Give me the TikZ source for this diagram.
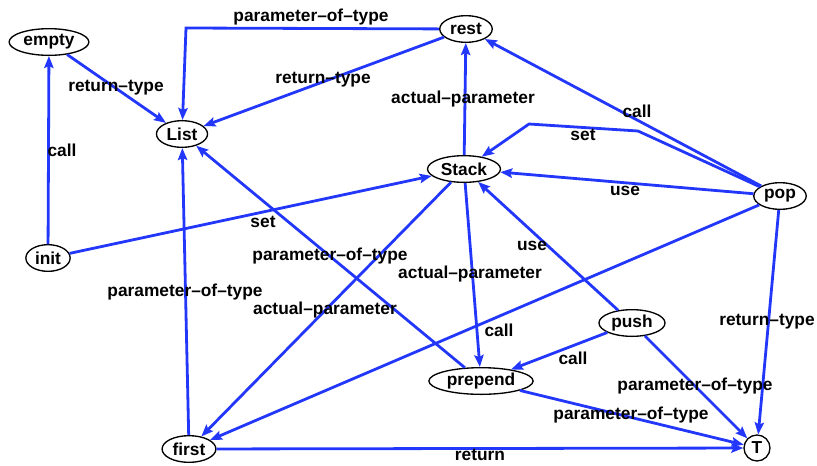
\documentclass[tikz,border=0pt]{standalone}
\usepackage{fontspec}
\setmainfont{Liberation Sans}
\usetikzlibrary{shapes.geometric, arrows.meta}
\definecolor{bleu}{RGB}{35, 55, 250}
\tikzset{
  etat/.style={ellipse, draw=black, line width=1pt, inner xsep=2pt, inner ysep=0pt,
    minimum height=20pt, font=\fontsize{13}{15}\selectfont\bfseries},
  lien/.style={draw=bleu, line width=2.1pt, -{Stealth[length=9pt, width=7pt, inset=1.5pt]}},
  etiq/.style={inner sep=0pt, font=\fontsize{13}{15}\selectfont\bfseries}
}

\begin{document}
\begin{tikzpicture}[x=0.75pt, y=-0.75pt]
    \useasboundingbox (0,0) rectangle (817,465);

    % Noeuds
    \node[etat] (empty) at (49, 42) {empty};
    \node[etat] (List) at (182, 134) {List};
    \node[etat] (rest) at (466, 29) {rest};
    \node[etat] (Stack) at (464, 169) {Stack};
    \node[etat] (pop) at (780, 196) {pop};
    \node[etat] (init) at (48, 258) {init};
    \node[etat] (push) at (632, 323) {push};
    \node[etat] (prepend) at (481, 381) {prepend};
    \node[etat] (first) at (189, 449) {first};
    \node[etat, circle, inner sep=0pt, minimum size=19.5pt] (T) at (757, 448) {T};

    % Points de passage
    \coordinate (k1) at (186, 28);
    \coordinate (k2) at (638, 131);
    \coordinate (k3) at (529, 124);

    % Liens vers List
    \draw[lien] (init) -- (empty);
    \draw[lien] (empty) -- (List);
    \draw[lien] (rest) -- (k1) -- (List);
    \draw[lien] (rest) -- (List);
    \draw[lien] (first) -- (List);
    \draw[lien] (prepend) -- (List);

    % Liens vers Stack et rest
    \draw[lien] (Stack) -- (rest);
    \draw[lien] (pop) -- (rest);
    \draw[lien] (pop) -- (k2) -- (k3) -- (Stack);
    \draw[lien] (pop) -- (Stack);
    \draw[lien] (init) -- (Stack);
    \draw[lien] (push) -- (Stack);

    % Liens vers first, prepend et T
    \draw[lien] (Stack) -- (first);
    \draw[lien] (Stack) -- (prepend);
    \draw[lien] (pop) -- (first);
    \draw[lien] (push) -- (prepend);
    \draw[lien] (push) -- (T);
    \draw[lien] (pop) -- (T);
    \draw[lien] (prepend) -- (T);
    \draw[lien] (first) -- (T);

    % Etiquettes
    \node[etiq] (l1) at (62, 150) {call};
    \node[etiq] (l2) at (116, 88) {return–type};
    \node[etiq] (l3) at (311, 17) {parameter–of–type};
    \node[etiq] (l4) at (323, 80) {return–type};
    \node[etiq] (l5) at (463, 99) {actual–parameter};
    \node[etiq] (l6) at (637, 111) {call};
    \node[etiq] (l7) at (583, 135) {set};
    \node[etiq] (l8) at (625, 191) {use};
    \node[etiq] (l9) at (263, 222) {set};
    \node[etiq] (l10) at (185, 292) {parameter–of–type};
    \node[etiq] (l11) at (330, 256) {parameter–of–type};
    \node[etiq] (l12) at (325, 310) {actual–parameter};
    \node[etiq] (l13) at (470, 274) {actual–parameter};
    \node[etiq] (l14) at (499, 330) {call};
    \node[etiq] (l15) at (532, 246) {use};
    \node[etiq] (l16) at (573, 358) {call};
    \node[etiq] (l17) at (695, 386) {parameter–of–type};
    \node[etiq] (l18) at (767, 322) {return–type};
    \node[etiq] (l19) at (631, 415) {parameter–of–type};
    \node[etiq] (l20) at (480, 455) {return};
\end{tikzpicture}
\end{document}
